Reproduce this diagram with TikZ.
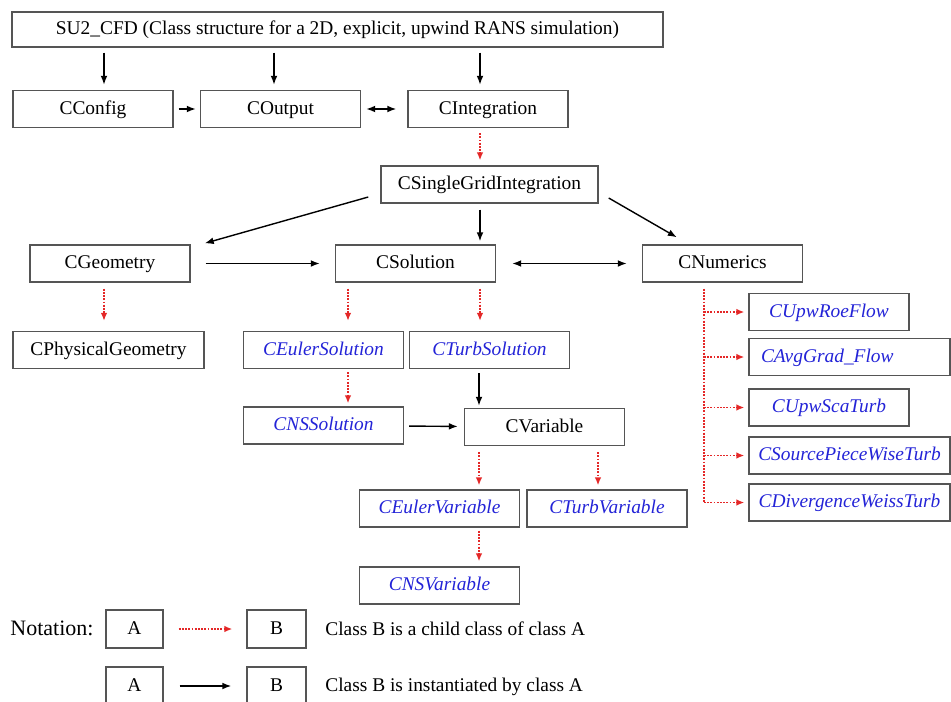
\documentclass[tikz,border=0pt]{standalone}
\usepackage{fontspec}
\setmainfont{Liberation Serif}
\usepackage{tikz}
\usetikzlibrary{positioning,shapes,arrows.meta}

\definecolor{boxgray}{RGB}{85,85,85}
\definecolor{clsblue}{RGB}{35,35,215}
\definecolor{inhred}{RGB}{228,40,40}

\begin{document}
\begin{tikzpicture}[
		  x=0.5pt, y=-0.5pt,
		  font=\fontsize{9.7}{11.6}\selectfont,
		  cls/.style={draw=boxgray,line width=0.7pt,rectangle,minimum width=80pt,minimum height=18.5pt,inner sep=1pt,text height=7pt,text depth=2pt},
		  sub/.style={cls,text=clsblue,font=\fontsize{9.7}{11.6}\selectfont\itshape},
		  use/.style={-{Latex[length=4.5pt,width=3.4pt]},line width=0.7pt},
		  inh/.style={-{Latex[length=4pt,width=3.4pt]},color=inhred,line width=0.8pt,dash pattern=on 0.9pt off 0.7pt},
		  gap/.style={shorten <=2.5pt,shorten >=2.5pt}
		]
		\useasboundingbox (0,0) rectangle (951,701);
		% main classes
		\node[cls,minimum width=325.5pt,minimum height=17.5pt] (su2) at (337.5,29.5) {SU2\_CFD (Class structure for a 2D, explicit, upwind RANS simulation)};
		\node[cls] (cfg) at (93,109) {CConfig};
		\node[cls] (out) at (280.5,109) {COutput};
		\node[cls] (integ) at (488,109) {CIntegration};
		\node[cls,minimum width=108.5pt] (sgi) at (489.5,184.5) {CSingleGridIntegration};
		\node[cls] (geo) at (110,263.5) {CGeometry};
		\node[cls] (sol) at (415.5,263.5) {CSolution};
		\node[cls] (num) at (722.5,263.5) {CNumerics};
		\node[cls,minimum width=95.5pt] (phys) at (108.5,350) {CPhysicalGeometry};
		\node[sub] (eulsol) at (323.5,350) {CEulerSolution};
		\node[sub] (turbsol) at (489.5,350) {CTurbSolution};
		\node[sub] (nssol) at (323.5,425.5) {CNSSolution};
		\node[cls] (var) at (544.5,427) {CVariable};
		\node[sub] (eulvar) at (439.5,508.5) {CEulerVariable};
		\node[sub] (turbvar) at (607,508.5) {CTurbVariable};
		\node[sub] (nsvar) at (439.5,585.5) {CNSVariable};
		% numerics
		\node[sub] (roe) at (829,312) {CUpwRoeFlow};
		\node[sub,minimum width=100.5pt,text width=88.5pt,inner xsep=6pt,align=left] (avg) at (849.5,357) {CAvgGrad\_Flow};
		\node[sub] (sca) at (829,407.5) {CUpwScaTurb};
		\node[sub,minimum width=100.5pt] (src) at (849.5,455.5) {CSourcePieceWiseTurb};
		\node[sub,minimum width=100.5pt] (div) at (849.5,502.5) {CDivergenceWeissTurb};
		% notation
		\node[anchor=west,inner sep=0pt,font=\fontsize{11}{13}\selectfont] (nota) at (10,628) {Notation:};
		\node[cls,minimum width=28.5pt,minimum height=19pt] (a1) at (134.5,629) {A};
		\node[cls,minimum width=29.5pt,minimum height=19pt] (b1) at (276.5,629) {B};
		\node[anchor=west,inner sep=0pt] (t1) at (325,629) {Class B is a child class of class A};
		\node[cls,minimum width=28.5pt,minimum height=19pt] (a2) at (134.5,686) {A};
		\node[cls,minimum width=29.5pt,minimum height=19pt] (b2) at (276.5,686) {B};
		\node[anchor=west,inner sep=0pt] (t2) at (325,687) {Class B is instantiated by class A};

		\draw[use,gap] ([xshift=5.5pt]cfg.north |- su2.south) -- ([xshift=5.5pt]cfg.north);
		\draw[use,gap] ([xshift=-3.25pt]out.north |- su2.south) -- ([xshift=-3.25pt]out.north);
		\draw[use,gap] ([xshift=-4pt]integ.north |- su2.south) -- ([xshift=-4pt]integ.north);
		\draw[use,shorten <=2.5pt,shorten >=2pt] (cfg) -- (out);
		\draw[use,{Latex[length=4.5pt,width=3.4pt]}-{Latex[length=4.5pt,width=3.4pt]},shorten <=2.5pt,shorten >=5.5pt] (out) -- (integ);
		\draw[inh,gap] ([xshift=-4pt]integ.south) -- ([xshift=-4pt]integ.south |- sgi.north);
		\draw[use] ([shift={(-6pt,-6.25pt)}]sgi.west) -- ([shift={(7pt,0.5pt)}]geo.north east);
		\draw[use,shorten <=3pt,shorten >=1.5pt] ([xshift=-4.75pt]sgi.south) -- ([xshift=-4.75pt]sgi.south |- sol.north);
		\draw[use] ([shift={(5pt,-6.75pt)}]sgi.east) -- ([shift={(17.5pt,3.5pt)}]num.north west);
		\draw[use,shorten <=7.5pt,shorten >=7.5pt] (geo) -- (sol);
		\draw[use,{Latex[length=4.5pt,width=3.4pt]}-{Latex[length=4.5pt,width=3.4pt]},shorten <=8pt,shorten >=7.5pt] (sol) -- (num);
		\draw[inh,shorten <=3pt,shorten >=5pt] ([xshift=-3pt]geo.south) -- ([xshift=-3pt]geo.south |- phys.north);
		\draw[inh,shorten <=3pt,shorten >=5pt] ([xshift=-33.75pt]sol.south) -- ([xshift=-33.75pt]sol.south |- eulsol.north);
		\draw[inh,shorten <=3pt,shorten >=5pt] ([xshift=32.25pt]sol.south) -- ([xshift=32.25pt]sol.south |- turbsol.north);
		\draw[inh,shorten <=1.5pt,shorten >=1.5pt] ([xshift=12.25pt]eulsol.south) -- ([xshift=12.25pt]eulsol.south |- nssol.north);
		\draw[use,shorten <=2pt,shorten >=1pt] ([xshift=-5.25pt]turbsol.south) -- ([xshift=-5.25pt]turbsol.south |- var.north);
		\draw[use,shorten <=2.5pt,shorten >=3pt] (nssol) -- (var);
		\draw[inh,shorten <=3pt,shorten >=2pt] ([xshift=-32.75pt]var.south) -- ([xshift=-32.75pt]var.south |- eulvar.north);
		\draw[inh,shorten <=3pt,shorten >=2pt] ([xshift=26.75pt]var.south) -- ([xshift=26.75pt]var.south |- turbvar.north);
		\draw[inh,shorten <=1.5pt,shorten >=2.5pt] ([xshift=19.75pt]eulvar.south) -- ([xshift=19.75pt]eulvar.south |- nsvar.north);
		% numerics tree
		\coordinate (tr) at ([xshift=-9.25pt]num.south);
		\draw[inh,-,shorten <=3pt] (tr) -- (tr |- div.west);
		\foreach \k in {roe,avg,sca,src,div}
			\draw[inh,shorten >=2pt] (tr |- \k.west) -- (\k.west);
		% notation arrows
		\draw[inh,shorten <=7.5pt,shorten >=7pt] (a1) -- (b1);
		\draw[use,shorten <=8pt,shorten >=7.5pt] (a2) -- (b2);
		\end{tikzpicture}
\end{document}
